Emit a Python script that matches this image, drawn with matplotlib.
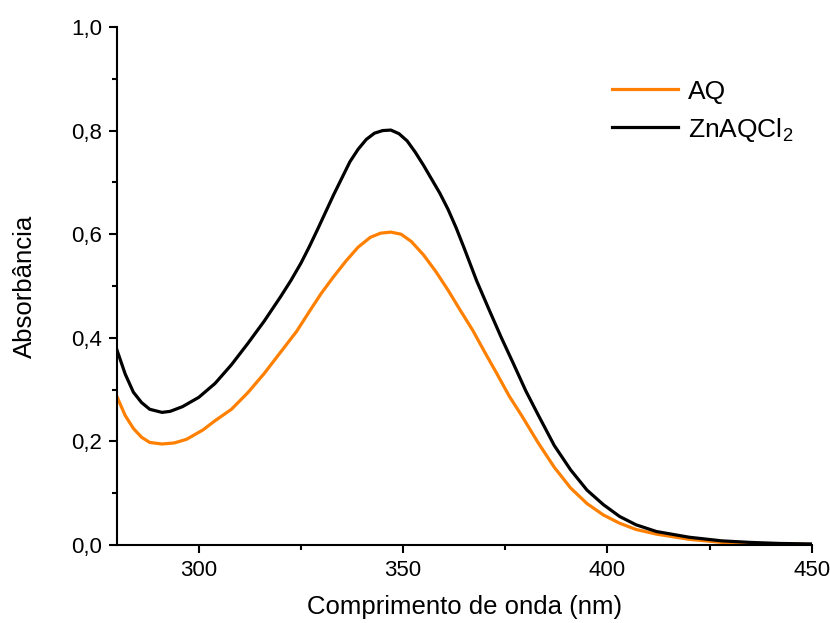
'''
    UV-Vis spectra of AQ and ZnAQCl2
'''

from matplotlib import pyplot as plt
from matplotlib.ticker import MultipleLocator, FuncFormatter
import numpy as np

# Wavelength (nm) and absorbance
wl_aq = [280, 282, 284, 286, 288, 291, 294, 297, 301, 304, 308, 312, 316,
         320, 324, 327, 330, 333, 336, 339, 342, 344.5, 347, 349.5, 352,
         355, 358, 361, 364, 367, 370, 373, 376, 379, 383, 387, 391, 395,
         399, 403, 407, 412, 420, 428, 435, 442, 450]
abs_aq = [0.286, 0.250, 0.225, 0.208, 0.198, 0.195, 0.197, 0.204, 0.222,
          0.240, 0.262, 0.294, 0.331, 0.372, 0.413, 0.450, 0.486, 0.518,
          0.548, 0.575, 0.594, 0.602, 0.604, 0.600, 0.586, 0.560, 0.528,
          0.492, 0.453, 0.415, 0.372, 0.330, 0.287, 0.250, 0.198, 0.150,
          0.110, 0.080, 0.058, 0.042, 0.030, 0.021, 0.011, 0.005, 0.003,
          0.002, 0.001]

wl_zn = [280, 282, 284, 286, 288, 291, 293, 296, 300, 304, 308, 312, 316,
         320, 322.5, 325, 327, 329, 331, 333, 335, 337, 339, 341, 343, 345,
         347, 349, 351, 353, 355, 357, 359, 361, 363, 365, 368, 371, 374,
         377, 380, 383, 387, 391, 395, 399, 403, 407, 412, 420, 428, 435,
         442, 450]
abs_zn = [0.376, 0.330, 0.295, 0.275, 0.262, 0.256, 0.258, 0.267, 0.285,
          0.312, 0.348, 0.389, 0.432, 0.479, 0.510, 0.544, 0.575, 0.608,
          0.642, 0.676, 0.708, 0.740, 0.764, 0.783, 0.795, 0.800, 0.801,
          0.794, 0.780, 0.758, 0.733, 0.706, 0.679, 0.648, 0.612, 0.572,
          0.510, 0.455, 0.401, 0.350, 0.298, 0.252, 0.192, 0.145, 0.106,
          0.078, 0.055, 0.039, 0.026, 0.015, 0.008, 0.005, 0.003, 0.002]

x_ticks = [300, 350, 400, 450]
y_ticks = [0.0, 0.2, 0.4, 0.6, 0.8, 1.0]

plt.rcParams['font.family'] = ['Liberation Sans', 'DejaVu Sans']
plt.rcParams['mathtext.default'] = 'regular'


def comma_fmt(v, pos):
    return '{:.1f}'.format(v).replace('.', ',')


def main():
    fig = plt.figure(figsize=(8.3, 6.23), dpi=100)
    ax = fig.add_axes([0.141, 0.1252, 0.837, 0.8315])

    ax.plot(wl_aq, abs_aq, color='#ff8000', lw=2.3, label='AQ')
    ax.plot(wl_zn, abs_zn, color='black', lw=2.3, label='ZnAQCl$_2$')

    ax.set_xlim(280, 450)
    ax.set_ylim(0, 1.0)
    ax.set_xticks(x_ticks)
    ax.set_yticks(y_ticks)
    ax.xaxis.set_minor_locator(MultipleLocator(25))
    ax.yaxis.set_minor_locator(MultipleLocator(0.1))
    ax.yaxis.set_major_formatter(FuncFormatter(comma_fmt))

    for s in ['top', 'right']:
        ax.spines[s].set_visible(False)
    for s in ['left', 'bottom']:
        ax.spines[s].set_linewidth(1.5)

    ax.tick_params(which='major', direction='out', length=6, width=1.5,
                   labelsize=16, pad=5)
    ax.tick_params(which='minor', direction='out', length=3.5, width=1.5)

    ax.set_xlabel('Comprimento de onda (nm)', fontsize=18.5, labelpad=10)
    ax.set_ylabel('Absorbância', fontsize=18.5, labelpad=24)

    ax.legend(frameon=False, loc='upper right', bbox_to_anchor=(1.008, 0.944),
              fontsize=19, handlelength=2.5, handletextpad=0.4,
              labelspacing=0.45)

    fig.savefig('out.png', dpi=100)
    plt.close(fig)


if __name__ == '__main__': main()
